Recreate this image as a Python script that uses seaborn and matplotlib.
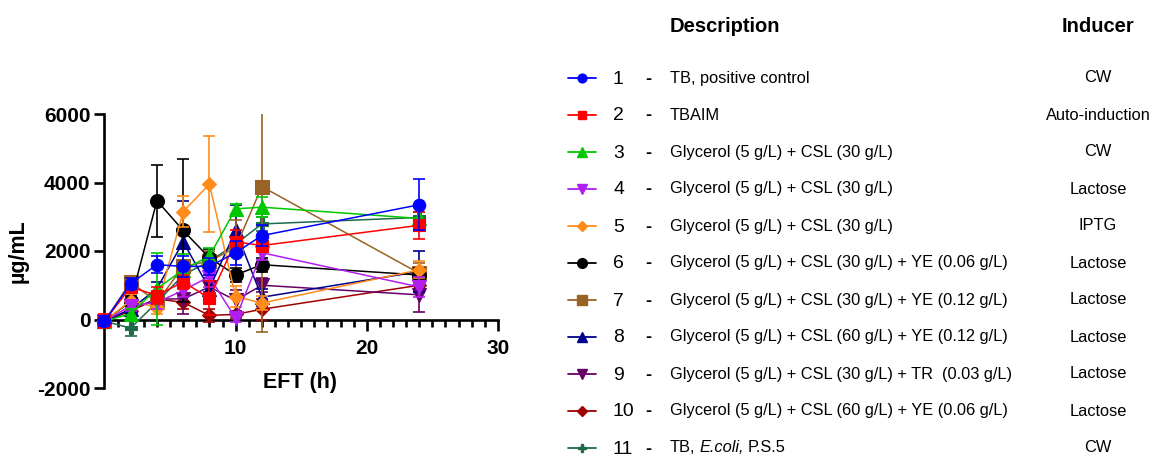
import matplotlib
matplotlib.use("Agg")
import matplotlib.pyplot as plt
import seaborn as sns
from matplotlib import font_manager
from matplotlib.ticker import MultipleLocator

# sampling times (h)
hours = [0, 2, 4, 6, 8, 10, 12, 24]

# mean and sd per condition (ug/mL)
s1_mean = [-50, 1050, 1600, 1550, 1550, 1950, 2450, 3350]
s1_sd = [150, 150, 250, 300, 250, 350, 300, 750]
s2_mean = [-50, 950, 700, 1100, 620, 2270, 2160, 2750]
s2_sd = [200, 150, 250, 200, 500, 350, 150, 400]
s3_mean = [-50, 170, 900, 1450, 1850, 3230, 3280, 2950]
s3_sd = [100, 150, 1050, 450, 250, 150, 300, 200]
s4_mean = [-50, 400, 500, 850, 1250, 30, 1950, 950]
s4_sd = [100, 150, 200, 200, 300, 100, 200, 300]
s5_mean = [-50, 550, 350, 3150, 3950, 670, 480, 1450]
s5_sd = [100, 200, 200, 450, 1400, 300, 200, 250]
s6_mean = [-50, 530, 3470, 2600, 1800, 1300, 1600, 1300]
s6_sd = [100, 150, 1050, 2100, 250, 200, 200, 200]
s7_mean = [-50, 1100, 500, 1550, 1700, 2100, 3880, 1350]
s7_sd = [150, 150, 200, 200, 300, 800, 4250, 300]
s8_mean = [-50, 300, 900, 2270, 900, 2600, 650, 1400]
s8_sd = [100, 150, 200, 1200, 300, 750, 250, 600]
s9_mean = [-50, 300, 600, 600, 950, 560, 1000, 720]
s9_sd = [100, 100, 150, 450, 150, 300, 200, 500]
s10_mean = [-50, 250, 600, 500, 120, 150, 300, 1000]
s10_sd = [100, 100, 150, 200, 200, 100, 300, 200]
s11_mean = [-50, -250, 500, 1300, 1700, 2200, 2790, 2980]
s11_sd = [100, 230, 200, 300, 200, 250, 200, 150]

numbers = ["1", "2", "3", "4", "5", "6", "7", "8", "9", "10", "11"]
descriptions = [
    "TB, positive control",
    "TBAIM",
    "Glycerol (5 g/L) + CSL (30 g/L)",
    "Glycerol (5 g/L) + CSL (30 g/L)",
    "Glycerol (5 g/L) + CSL (30 g/L)",
    "Glycerol (5 g/L) + CSL (30 g/L) + YE (0.06 g/L)",
    "Glycerol (5 g/L) + CSL (30 g/L) + YE (0.12 g/L)",
    "Glycerol (5 g/L) + CSL (60 g/L) + YE (0.12 g/L)",
    "Glycerol (5 g/L) + CSL (30 g/L) + TR  (0.03 g/L)",
    "Glycerol (5 g/L) + CSL (60 g/L) + YE (0.06 g/L)",
    None,  # 11 has italic part, drawn below
]
inducers = ["CW", "Auto-induction", "CW", "Lactose", "IPTG", "Lactose",
            "Lactose", "Lactose", "Lactose", "Lactose", "CW"]

colors = ["#0000FF", "#FF0000", "#00C800", "#B31EF0", "#FF8C1A", "#000000",
          "#9A6326", "#00008C", "#660066", "#A00000", "#1E6B4A"]
markers = ["o", "s", "^", "v", "D", "o", "s", "^", "v", "D", "P"]
msizes = [9, 9, 10, 10, 7, 10, 10, 10, 10, 7, 8]

means = [s1_mean, s2_mean, s3_mean, s4_mean, s5_mean, s6_mean,
         s7_mean, s8_mean, s9_mean, s10_mean, s11_mean]
sds = [s1_sd, s2_sd, s3_sd, s4_sd, s5_sd, s6_sd,
       s7_sd, s8_sd, s9_sd, s10_sd, s11_sd]

sns.set_theme(style="ticks")
plt.rcParams["font.family"] = ["Liberation Sans", "DejaVu Sans"]
plt.rcParams["axes.unicode_minus"] = False
plt.rcParams["text.color"] = "black"
plt.rcParams["axes.labelcolor"] = "black"
plt.rcParams["xtick.color"] = "black"
plt.rcParams["ytick.color"] = "black"

names = {f.name for f in font_manager.fontManager.ttflist}
narrow = "Liberation Sans Narrow" if "Liberation Sans Narrow" in names else "Liberation Sans"
nscale = 1.0 if narrow == "Liberation Sans Narrow" else 0.855

fig = plt.figure(figsize=(11.52, 4.59), dpi=100)
W, H = 1152, 459
ax = fig.add_axes([96.6 / W, 1 - 388 / H, 406.6 / W, 274 / H])

for i in reversed(range(11)):
    z = 3 + (11 - i) * 0.02
    ax.errorbar(hours, means[i], yerr=sds[i], fmt="none", ecolor=colors[i],
                elinewidth=1.2, capsize=4, capthick=1.2, zorder=z)
    sns.lineplot(x=hours, y=means[i], ax=ax, color=colors[i], marker=markers[i],
                 markersize=msizes[i], mec=colors[i], markeredgewidth=0.8,
                 lw=1.1, zorder=z + 0.01, legend=False)

ax.set_xlim(-0.6, 30.4)
ax.set_ylim(-2000, 6000)
ax.spines["top"].set_visible(False)
ax.spines["right"].set_visible(False)
ax.spines["left"].set_position(("data", 0))
ax.spines["bottom"].set_position(("data", 0))
ax.spines["bottom"].set_bounds(0, 30)
for s in ["left", "bottom"]:
    ax.spines[s].set_linewidth(1.9)
    ax.spines[s].set_color("black")

ax.set_xticks([10, 20, 30])
ax.xaxis.set_minor_locator(MultipleLocator(1))
ax.set_yticks([-2000, 0, 2000, 4000, 6000])
ax.tick_params(axis="x", which="major", direction="out", length=8, width=1.9,
               pad=6, labelsize=15)
ax.tick_params(axis="x", which="minor", direction="out", length=5, width=1.9)
ax.tick_params(axis="y", which="major", direction="out", length=7, width=1.9,
               pad=3, labelsize=15)
for lab in ax.get_xticklabels() + ax.get_yticklabels():
    lab.set_fontweight("bold")

ax.set_xlabel("EFT (h)", fontsize=15.5, fontweight="bold")
ax.xaxis.set_label_coords((300 - 96.6) / 406.6, (388 - 372) / 274)
ax.set_ylabel("µg/mL", fontsize=15.5, fontweight="bold")
ax.yaxis.set_label_coords((29 - 96.6) / 406.6, 0.5)

# legend panel, laid out in figure pixels
lg = fig.add_axes([550 / W, 0, (W - 550) / W, 1])
lg.set_xlim(550, W)
lg.set_ylim(H, 0)
lg.axis("off")

lg.text(670, 27, "Description", fontsize=17 * nscale, fontweight="bold",
        family=narrow, ha="left", va="center")
lg.text(1098, 27, "Inducer", fontsize=17 * nscale, fontweight="bold",
        family=narrow, ha="center", va="center")

txt = 13.8 * nscale
for i in range(11):
    y = 78 + 37 * i
    lg.plot([568, 596], [y, y], color=colors[i], lw=1.3)
    lg.plot([582], [y], marker=markers[i], color=colors[i], mec=colors[i],
            markersize=msizes[i] * 0.7, lw=0)
    lg.text(613, y + 1, numbers[i], fontsize=17 * 0.82, family=narrow,
            ha="left", va="center")
    lg.text(648, y + 1, "-", fontsize=13, fontweight="bold", ha="center", va="center")
    if descriptions[i] is not None:
        lg.text(670, y, descriptions[i], fontsize=txt, family=narrow,
                ha="left", va="center")
    else:
        r = fig.canvas.get_renderer()
        t1 = lg.text(670, y, "TB,", fontsize=txt, family=narrow, ha="left", va="center")
        x2 = t1.get_window_extent(r).x1 + 4
        t2 = lg.text(x2, y, "E.coli,", fontsize=txt, family=narrow, style="italic",
                     ha="left", va="center")
        x3 = t2.get_window_extent(r).x1 + 4
        lg.text(x3, y, "P.S.5", fontsize=txt, family=narrow, ha="left", va="center")
    lg.text(1098, y, inducers[i], fontsize=txt, family=narrow, ha="center", va="center")

fig.savefig("out.png", dpi=100)
